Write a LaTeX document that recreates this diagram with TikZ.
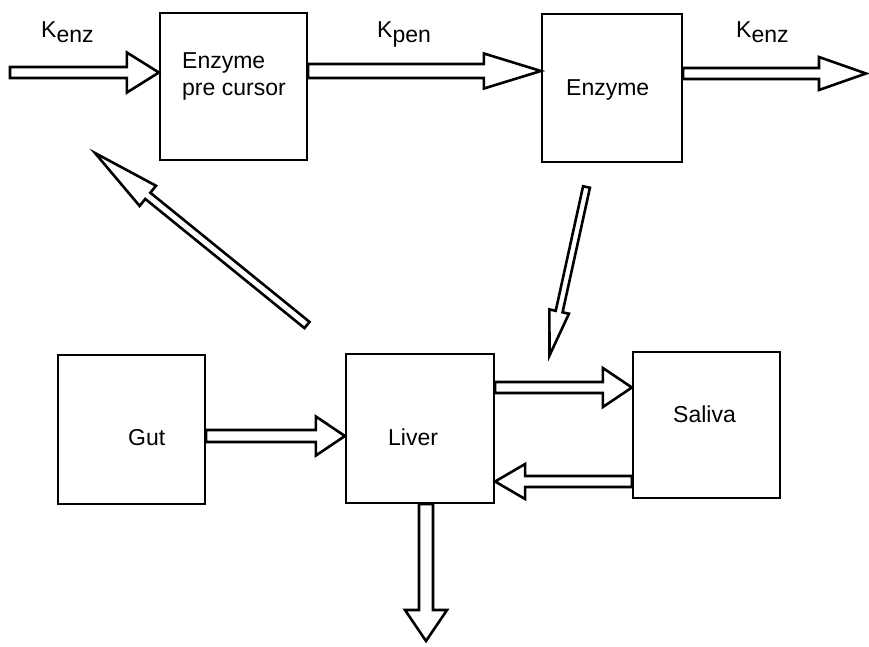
\documentclass[tikz,border=0pt]{standalone}
\usepackage{fontspec}
\setmainfont{Liberation Sans}
\usetikzlibrary{calc}
\tikzset{
  box/.style={draw, line width=2.2pt, inner sep=0pt, rectangle},
  lbl/.style={inner sep=0pt, font=\fontsize{23}{27}\selectfont, anchor=base west, align=left},
  blockline/.style={draw, line width=2.6pt, line join=miter, fill=white},
}
% Outlined block arrow from #1 to #2: shaft half width #3, head half width #4, head length #5
\newcommand\blockarrow[5]{%
  \coordinate (ba-h) at ($(#2)!#5!(#1)$);
  \draw[blockline] ($(#1)!#3!90:(#2)$) -- ($(ba-h)!#3!90:(#2)$) -- ($(ba-h)!#4!90:(#2)$)
    -- (#2) -- ($(ba-h)!#4!-90:(#2)$) -- ($(ba-h)!#3!-90:(#2)$) -- ($(#1)!#3!-90:(#2)$) -- cycle;
}
\begin{document}
\begin{tikzpicture}[x=1pt, y=-1pt]
  \useasboundingbox (0,0) rectangle (869,646);

  % compartments
  \node[box, minimum width=147pt, minimum height=147pt] (pre) at (233.5,86.5) {};
  \node[box, minimum width=140pt, minimum height=148pt] (enz) at (612,88) {};
  \node[box, minimum width=147pt, minimum height=149pt] (gut) at (131.5,429.5) {};
  \node[box, minimum width=148pt, minimum height=149pt] (liver) at (420,428.5) {};
  \node[box, minimum width=147pt, minimum height=146pt] (saliva) at (706.5,425) {};

  % texts (base of a two-line label sits on its last line)
  \node[lbl] (t-pre) at (182,95) {Enzyme\\pre cursor};
  \node[lbl] (t-enz) at (566,95) {Enzyme};
  \node[lbl] (t-gut) at (128,445) {Gut};
  \node[lbl] (t-liver) at (388,445) {Liver};
  \node[lbl] (t-saliva) at (673,422) {Saliva};
  \node[lbl] (k-in) at (41,37) {K\raisebox{-5pt}{enz}};
  \node[lbl] (k-pen) at (377,37) {K\raisebox{-5pt}{pen}};
  \node[lbl] (k-out) at (736,37) {K\raisebox{-5pt}{enz}};

  % arrow end points
  \coordinate (in-start) at (10,72.5);
  \coordinate (in-end) at (pre.west |- 0,72.5);
  \coordinate (pen-start) at (pre.east |- 0,71);
  \coordinate (pen-end) at (enz.west |- 0,71);
  \coordinate (out-start) at (enz.east |- 0,73.5);
  \coordinate (out-end) at (866,73.5);
  \coordinate (back-start) at (307,325);
  \coordinate (back-tip) at (95,153);
  \coordinate (down-start) at (586.5,187);
  \coordinate (down-tip) at (549.5,355.5);
  \coordinate (gl-start) at (gut.east |- 0,436);
  \coordinate (gl-end) at (liver.west |- 0,436);
  \coordinate (ls-start) at (liver.east |- 0,387.5);
  \coordinate (ls-end) at (saliva.west |- 0,387.5);
  \coordinate (sl-start) at (saliva.west |- 0,481.5);
  \coordinate (sl-end) at (liver.east |- 0,481.5);
  \coordinate (ex-start) at (liver.south -| 426,0);
  \coordinate (ex-end) at (426,641);

  % flows
  \blockarrow{in-start}{in-end}{5.5pt}{20pt}{32pt}
  \blockarrow{pen-start}{pen-end}{7pt}{17.5pt}{57pt}
  \blockarrow{out-start}{out-end}{5.5pt}{16.5pt}{47pt}
  \blockarrow{back-start}{back-tip}{4pt}{13pt}{68pt}
  \blockarrow{down-start}{down-tip}{3.5pt}{10pt}{45pt}
  \blockarrow{gl-start}{gl-end}{6pt}{19.5pt}{29pt}
  \blockarrow{ls-start}{ls-end}{5.5pt}{19.5pt}{29pt}
  \blockarrow{sl-start}{sl-end}{5.5pt}{17.5pt}{30pt}
  \blockarrow{ex-start}{ex-end}{7pt}{21pt}{31pt}
\end{tikzpicture}
\end{document}
